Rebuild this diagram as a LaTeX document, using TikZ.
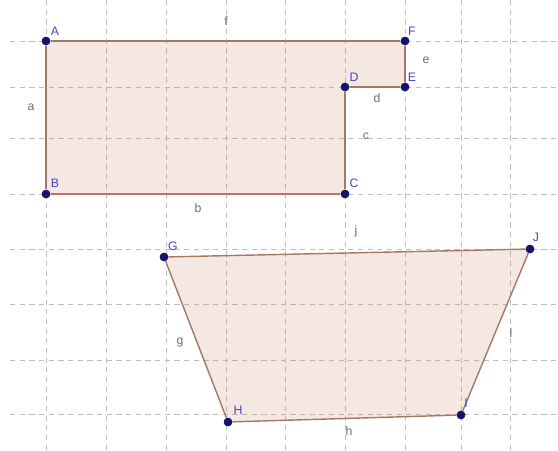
\documentclass[tikz,border=0pt]{standalone}
\usepackage{fontspec}
\setmainfont{Liberation Sans}
\usepackage{tikz}
\usetikzlibrary{arrows.meta, positioning, calc}

\definecolor{polyfill}{RGB}{200,120,90}
\definecolor{polyedge}{RGB}{165,120,100}
\definecolor{seledge}{RGB}{200,112,96}
\definecolor{ptblue}{RGB}{20,20,110}
\definecolor{ptlabel}{RGB}{70,70,200}
\definecolor{seglabel}{RGB}{110,110,110}
\definecolor{gridgray}{RGB}{190,190,190}

\begin{document}
\begin{tikzpicture}
[
  x=0.02cm, y=-0.02cm,
  every node/.style={inner sep=0pt, font=\fontsize{7}{8}\selectfont},
  pt/.style={circle, fill=ptblue, minimum size=0.17cm},
  ptname/.style={text=ptlabel},
  segname/.style={text=seglabel},
  polygon/.style={fill=polyfill, fill opacity=0.18},
  gridline/.style={gridgray, line width=0.4pt, dash pattern=on 3pt off 2.5pt},
  every edge/.style={draw=polyedge, line width=0.8pt, -}
]
\useasboundingbox (0,0) rectangle (558,450);

% grid
\foreach \x in {46,106,166,226,285,345,405,461,510}
  \draw[gridline] (\x,0) -- (\x,450);
\foreach \y in {41,87,138,194,249,304,360,414}
  \draw[gridline] (10,\y) -- (558,\y);

% corners
\node[pt] (A) at (46,41) {};
\node[pt] (B) at (46,194) {};
\node[pt] (C) at (345,194) {};
\node[pt] (D) at (345,87) {};
\node[pt] (E) at (405,87) {};
\node[pt] (F) at (405,41) {};
\node[pt] (G) at (164,257) {};
\node[pt] (H) at (228,422) {};
\node[pt] (I) at (461,415) {};
\node[pt] (J) at (530,249) {};

% polygons
\fill[polygon] (A.center) -- (B.center) -- (C.center) -- (D.center) -- (E.center) -- (F.center) -- cycle;
\fill[polygon] (G.center) -- (H.center) -- (I.center) -- (J.center) -- cycle;

\draw (A) edge (B);
\draw (B) edge[draw=seledge, line width=1.6pt] (C);
\draw (C) edge (D);
\draw (D) edge (E);
\draw (E) edge (F);
\draw (F) edge (A);
\draw (G) edge (H);
\draw (H) edge (I);
\draw (I) edge (J);
\draw (J) edge (G);

% redraw dots on top
\foreach \p in {A,B,C,D,E,F,G,H,I,J}
  \fill[ptblue] (\p.center) circle[radius=0.085cm];

% point names
\node[ptname] (nA) at (55,31) {A};
\node[ptname] (nB) at (55,183) {B};
\node[ptname] (nC) at (354,183) {C};
\node[ptname] (nD) at (354,77) {D};
\node[ptname] (nE) at (412,77) {E};
\node[ptname] (nF) at (412,31) {F};
\node[ptname] (nG) at (173,246) {G};
\node[ptname] (nH) at (238,410) {H};
\node[ptname] (nI) at (466,403) {I};
\node[ptname] (nJ) at (536,237) {J};

% segment names
\node[segname] (sa) at (31,107) {a};
\node[segname] (sb) at (198,208) {b};
\node[segname] (sc) at (366,136) {c};
\node[segname] (sd) at (377,98) {d};
\node[segname] (se) at (426,60) {e};
\node[segname] (sf) at (226,21) {f};
\node[segname] (sg) at (180,342) {g};
\node[segname] (sh) at (349,431) {h};
\node[segname] (sj) at (356,231) {j};
\node[segname] (sl) at (511,333) {l};
\end{tikzpicture}
\end{document}
